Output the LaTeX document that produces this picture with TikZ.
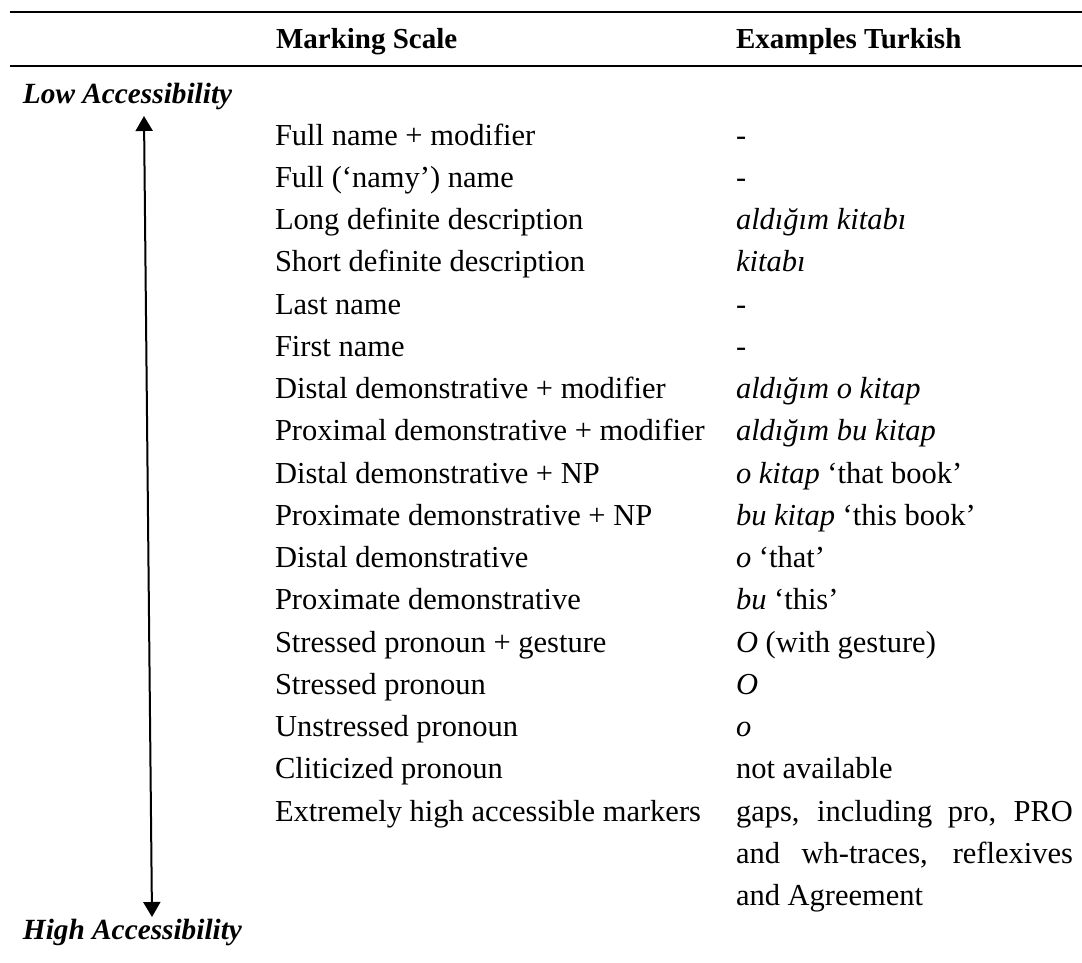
\documentclass[tikz,border=0pt]{standalone}
\usepackage{fontspec}
\setmainfont{Liberation Serif}
\usetikzlibrary{arrows.meta}
\tikzset{
  txt/.style={anchor=base west, inner sep=0pt, outer sep=0pt, font=\fontsize{30.5}{36}\selectfont},
  hdr/.style={txt, font=\fontsize{29}{34}\selectfont\bfseries},
  side/.style={txt, font=\fontsize{29.3}{34}\selectfont\bfseries\itshape},
  rule/.style={line width=2pt, black},
  scalearrow/.style={line width=2pt, {Triangle[width=17pt,length=15pt]}-{Triangle[width=17pt,length=15pt]}}
}
\newcommand{\jline}[1]{\makebox[337pt][s]{#1}}
\begin{document}
\begin{tikzpicture}[x=1pt,y=1pt]
\useasboundingbox (0,0) rectangle (1082,-962);
% rules
\coordinate (r1a) at (10,-12.3);
\coordinate (r1b) at (1082,-12.3);
\coordinate (r2a) at (10,-65.7);
\coordinate (r2b) at (1082,-65.7);
\draw[rule] (r1a) -- (r1b);
\draw[rule] (r2a) -- (r2b);
% header
\node[hdr] (h1) at (276,-48.3) {Marking Scale};
\node[hdr] (h2) at (736,-48.3) {Examples Turkish};
% side labels
\node[side] (low) at (23,-103) {Low Accessibility};
\node[side] (high) at (23,-939) {High Accessibility};
\coordinate (atop) at (144,-116);
\coordinate (abot) at (152,-917);
\draw[scalearrow] (abot) -- (atop);
% rows
\foreach \k/\m/\e in {
  0/{Full name + modifier}/{-},
  1/{Full (‘namy’) name}/{-},
  2/{Long definite description}/{\textit{aldığım kitabı}},
  3/{Short definite description}/{\textit{kitabı}},
  4/{Last name}/{-},
  5/{First name}/{-},
  6/{Distal demonstrative + modifier}/{\textit{aldığım o kitap}},
  7/{Proximal demonstrative + modifier}/{\textit{aldığım bu kitap}},
  8/{Distal demonstrative + NP}/{\textit{o kitap} ‘that book’},
  9/{Proximate demonstrative + NP}/{\textit{bu kitap} ‘this book’},
  10/{Distal demonstrative}/{\textit{o} ‘that’},
  11/{Proximate demonstrative}/{\textit{bu} ‘this’},
  12/{Stressed pronoun + gesture}/{\textit{O} (with gesture)},
  13/{Stressed pronoun}/{\textit{O}},
  14/{Unstressed pronoun}/{\textit{o}},
  15/{Cliticized pronoun}/{not available},
  16/{Extremely high accessible markers}/{\jline{gaps, including pro, PRO}}}
{
  \node[txt] (m\k) at (275,{-145-42.25*\k}) {\m};
  \node[txt] (e\k) at (736,{-145-42.25*\k}) {\e};
}
\node[txt] (e17) at (736,{-145-42.25*17}) {\jline{and wh-traces, reflexives}};
\node[txt] (e18) at (736,{-145-42.25*18}) {and Agreement};
\end{tikzpicture}
\end{document}
